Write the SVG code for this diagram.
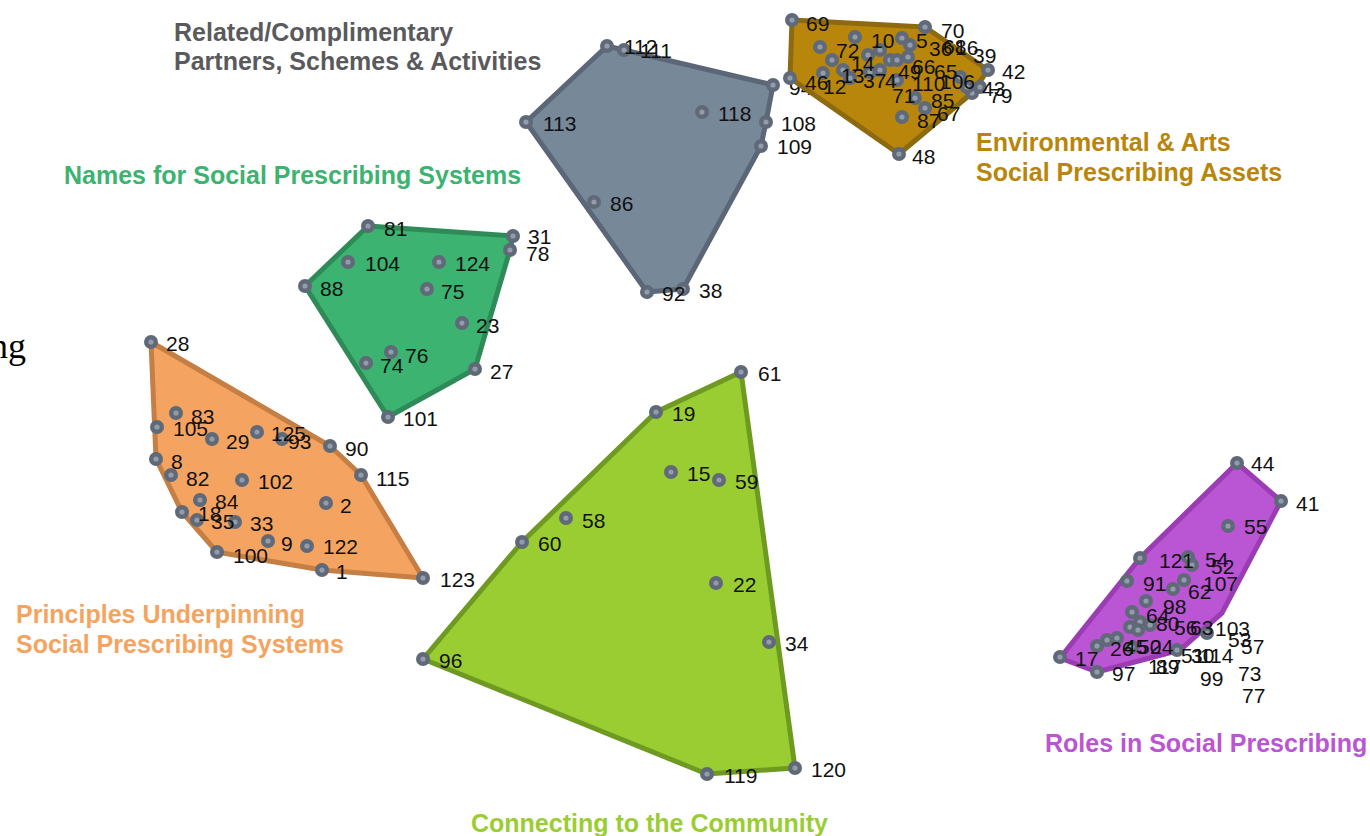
<svg xmlns="http://www.w3.org/2000/svg" xmlns:xlink="http://www.w3.org/1999/xlink" width="1370" height="836" viewBox="0 0 1370 836">
<defs>
<style>
.poly{stroke-width:5;stroke-linejoin:round}
.lbl{font-family:"Liberation Sans",Arial,sans-serif;font-size:21px;fill:#111}
.ttl{font-family:"Liberation Sans",Arial,sans-serif;font-size:25px;font-weight:bold}
</style>
<g id="dot"><circle r="7" fill="#5f6978"/><circle r="2.6" fill="#929caa"/></g>
</defs>
<rect width="1370" height="836" fill="#ffffff"/>
<text x="-10" y="358" font-family="'Liberation Serif',serif" font-size="36" fill="#000">ng</text>

<g id="titles">
<text class="ttl" fill="#5a5a5c" x="174" y="41">Related/Complimentary</text>
<text class="ttl" fill="#5a5a5c" x="174" y="70">Partners, Schemes &amp; Activities</text>
<text class="ttl" fill="#3cb371" x="64" y="184">Names for Social Prescribing Systems</text>
<text class="ttl" fill="#b8860b" x="976" y="151">Environmental &amp; Arts</text>
<text class="ttl" fill="#b8860b" x="976" y="181">Social Prescribing Assets</text>
<text class="ttl" fill="#f4a460" x="16" y="623">Principles Underpinning</text>
<text class="ttl" fill="#f4a460" x="16" y="653">Social Prescribing Systems</text>
<text class="ttl" fill="#9acd32" x="471" y="832">Connecting to the Community</text>
<text class="ttl" fill="#ba55d3" x="1045" y="752">Roles in Social Prescribing</text>
</g>

<g id="cluster-related">
<polygon class="poly" fill="#778899" stroke="#5b6777" points="526,122 607,46 624,50 773,85 766,122 761,146 683,289 647,292"/>
<use href="#dot" x="526" y="122"/><use href="#dot" x="607" y="46"/><use href="#dot" x="624" y="50"/><use href="#dot" x="773" y="85"/><use href="#dot" x="766" y="122"/><use href="#dot" x="761" y="146"/><use href="#dot" x="683" y="289"/><use href="#dot" x="647" y="292"/><use href="#dot" x="702" y="112"/><use href="#dot" x="594" y="202"/>
<text class="lbl" x="543" y="131">113</text><text class="lbl" x="624" y="54">112</text><text class="lbl" x="640" y="58">111</text><text class="lbl" x="718" y="121">118</text><text class="lbl" x="781" y="131">108</text><text class="lbl" x="777" y="154">109</text><text class="lbl" x="610" y="211">86</text><text class="lbl" x="662" y="301">92</text><text class="lbl" x="699" y="298">38</text><text class="lbl" x="789" y="95">94</text>
</g>

<g id="cluster-environmental">
<polygon class="poly" fill="#b8860b" stroke="#8d6a10" points="792,20 925,27 988,70 972,93 899,154 790,78"/>
<use href="#dot" x="792" y="20"/><use href="#dot" x="925" y="27"/><use href="#dot" x="855" y="37"/><use href="#dot" x="820" y="47"/><use href="#dot" x="832" y="60"/><use href="#dot" x="823" y="73"/><use href="#dot" x="790" y="78"/><use href="#dot" x="843" y="70"/><use href="#dot" x="850" y="78"/><use href="#dot" x="868" y="55"/><use href="#dot" x="880" y="50"/><use href="#dot" x="890" y="60"/><use href="#dot" x="902" y="38"/><use href="#dot" x="910" y="45"/><use href="#dot" x="908" y="57"/><use href="#dot" x="897" y="60"/><use href="#dot" x="880" y="70"/><use href="#dot" x="870" y="72"/><use href="#dot" x="897" y="80"/><use href="#dot" x="960" y="77"/><use href="#dot" x="988" y="70"/><use href="#dot" x="972" y="93"/><use href="#dot" x="967" y="87"/><use href="#dot" x="980" y="87"/><use href="#dot" x="915" y="98"/><use href="#dot" x="925" y="108"/><use href="#dot" x="902" y="117"/><use href="#dot" x="899" y="154"/>
<text class="lbl" x="806" y="31">69</text><text class="lbl" x="941" y="38">70</text><text class="lbl" x="871" y="48">10</text><text class="lbl" x="836" y="58">72</text><text class="lbl" x="916" y="48">5</text><text class="lbl" x="929" y="56">36</text><text class="lbl" x="943" y="54">68</text><text class="lbl" x="955" y="55">16</text><text class="lbl" x="973" y="63">39</text><text class="lbl" x="851" y="71">14</text><text class="lbl" x="841" y="83">13</text><text class="lbl" x="863" y="88">37</text><text class="lbl" x="885" y="88">4</text><text class="lbl" x="805" y="90">46</text><text class="lbl" x="823" y="94">12</text><text class="lbl" x="898" y="79">49</text><text class="lbl" x="912" y="74">66</text><text class="lbl" x="934" y="79">65</text><text class="lbl" x="912" y="91">110</text><text class="lbl" x="940" y="89">106</text><text class="lbl" x="1002" y="79">42</text><text class="lbl" x="982" y="96">43</text><text class="lbl" x="989" y="103">79</text><text class="lbl" x="892" y="103">71</text><text class="lbl" x="931" y="108">85</text><text class="lbl" x="937" y="121">67</text><text class="lbl" x="917" y="128">87</text><text class="lbl" x="912" y="164">48</text>
</g>

<g id="cluster-names">
<polygon class="poly" fill="#3cb371" stroke="#2e8b57" points="368,226 513,236 510,250 475,369 388,417 305,286"/>
<use href="#dot" x="368" y="226"/><use href="#dot" x="513" y="236"/><use href="#dot" x="510" y="250"/><use href="#dot" x="348" y="262"/><use href="#dot" x="439" y="262"/><use href="#dot" x="305" y="286"/><use href="#dot" x="427" y="289"/><use href="#dot" x="462" y="323"/><use href="#dot" x="391" y="352"/><use href="#dot" x="366" y="363"/><use href="#dot" x="475" y="369"/><use href="#dot" x="388" y="417"/>
<text class="lbl" x="384" y="236">81</text><text class="lbl" x="528" y="244">31</text><text class="lbl" x="526" y="261">78</text><text class="lbl" x="365" y="271">104</text><text class="lbl" x="455" y="271">124</text><text class="lbl" x="320" y="296">88</text><text class="lbl" x="441" y="299">75</text><text class="lbl" x="476" y="333">23</text><text class="lbl" x="405" y="363">76</text><text class="lbl" x="380" y="373">74</text><text class="lbl" x="490" y="379">27</text><text class="lbl" x="403" y="426">101</text>
</g>

<g id="cluster-principles">
<polygon class="poly" fill="#f4a460" stroke="#c57f45" points="151,342 330,446 361,475 423,578 322,570 217,552 182,512 156,459"/>
<use href="#dot" x="151" y="342"/><use href="#dot" x="176" y="413"/><use href="#dot" x="157" y="427"/><use href="#dot" x="212" y="439"/><use href="#dot" x="257" y="432"/><use href="#dot" x="282" y="439"/><use href="#dot" x="330" y="446"/><use href="#dot" x="156" y="459"/><use href="#dot" x="171" y="475"/><use href="#dot" x="242" y="480"/><use href="#dot" x="361" y="475"/><use href="#dot" x="200" y="500"/><use href="#dot" x="182" y="512"/><use href="#dot" x="197" y="520"/><use href="#dot" x="235" y="522"/><use href="#dot" x="326" y="503"/><use href="#dot" x="268" y="541"/><use href="#dot" x="307" y="546"/><use href="#dot" x="217" y="552"/><use href="#dot" x="322" y="570"/><use href="#dot" x="423" y="578"/>
<text class="lbl" x="166" y="351">28</text><text class="lbl" x="191" y="424">83</text><text class="lbl" x="173" y="436">105</text><text class="lbl" x="226" y="449">29</text><text class="lbl" x="271" y="441">125</text><text class="lbl" x="288" y="449">93</text><text class="lbl" x="345" y="456">90</text><text class="lbl" x="171" y="469">8</text><text class="lbl" x="186" y="486">82</text><text class="lbl" x="258" y="489">102</text><text class="lbl" x="376" y="486">115</text><text class="lbl" x="215" y="509">84</text><text class="lbl" x="198" y="521">18</text><text class="lbl" x="211" y="529">35</text><text class="lbl" x="250" y="531">33</text><text class="lbl" x="340" y="513">2</text><text class="lbl" x="281" y="551">9</text><text class="lbl" x="323" y="554">122</text><text class="lbl" x="233" y="563">100</text><text class="lbl" x="336" y="579">1</text><text class="lbl" x="440" y="587">123</text>
</g>

<g id="cluster-connecting">
<polygon class="poly" fill="#9acd32" stroke="#6f9a22" points="741,372 795,768 707,774 423,659 522,542 656,412"/>
<use href="#dot" x="741" y="372"/><use href="#dot" x="656" y="412"/><use href="#dot" x="671" y="472"/><use href="#dot" x="719" y="480"/><use href="#dot" x="566" y="518"/><use href="#dot" x="522" y="542"/><use href="#dot" x="716" y="583"/><use href="#dot" x="769" y="642"/><use href="#dot" x="423" y="659"/><use href="#dot" x="707" y="774"/><use href="#dot" x="795" y="768"/>
<text class="lbl" x="758" y="381">61</text><text class="lbl" x="672" y="421">19</text><text class="lbl" x="687" y="481">15</text><text class="lbl" x="735" y="489">59</text><text class="lbl" x="582" y="528">58</text><text class="lbl" x="538" y="551">60</text><text class="lbl" x="733" y="592">22</text><text class="lbl" x="785" y="651">34</text><text class="lbl" x="439" y="668">96</text><text class="lbl" x="724" y="783">119</text><text class="lbl" x="811" y="777">120</text>
</g>

<g id="cluster-roles">
<polygon class="poly" fill="#ba55d3" stroke="#9a3db3" points="1237,463 1281,501 1222,613 1180,650 1097,672 1060,658 1140,558"/>
<use href="#dot" x="1237" y="463"/><use href="#dot" x="1281" y="501"/><use href="#dot" x="1228" y="526"/><use href="#dot" x="1140" y="558"/><use href="#dot" x="1188" y="557"/><use href="#dot" x="1192" y="565"/><use href="#dot" x="1127" y="581"/><use href="#dot" x="1184" y="580"/><use href="#dot" x="1173" y="589"/><use href="#dot" x="1146" y="601"/><use href="#dot" x="1132" y="612"/><use href="#dot" x="1140" y="622"/><use href="#dot" x="1150" y="625"/><use href="#dot" x="1130" y="627"/><use href="#dot" x="1138" y="630"/><use href="#dot" x="1117" y="638"/><use href="#dot" x="1107" y="640"/><use href="#dot" x="1097" y="646"/><use href="#dot" x="1132" y="647"/><use href="#dot" x="1177" y="650"/><use href="#dot" x="1207" y="633"/><use href="#dot" x="1060" y="657"/><use href="#dot" x="1097" y="672"/>
<text class="lbl" x="1251" y="471">44</text><text class="lbl" x="1296" y="511">41</text><text class="lbl" x="1244" y="534">55</text><text class="lbl" x="1159" y="568">121</text><text class="lbl" x="1205" y="567">54</text><text class="lbl" x="1211" y="574">52</text><text class="lbl" x="1143" y="591">91</text><text class="lbl" x="1203" y="591">107</text><text class="lbl" x="1188" y="599">62</text><text class="lbl" x="1163" y="614">98</text><text class="lbl" x="1146" y="623">64</text><text class="lbl" x="1156" y="631">80</text><text class="lbl" x="1174" y="635">56</text><text class="lbl" x="1190" y="635">63</text><text class="lbl" x="1215" y="636">103</text><text class="lbl" x="1228" y="647">53</text><text class="lbl" x="1241" y="654">57</text><text class="lbl" x="1110" y="656">26</text><text class="lbl" x="1124" y="654">45</text><text class="lbl" x="1138" y="654">50</text><text class="lbl" x="1150" y="654">24</text><text class="lbl" x="1075" y="666">17</text><text class="lbl" x="1112" y="681">97</text><text class="lbl" x="1148" y="674">117</text><text class="lbl" x="1156" y="674">89</text><text class="lbl" x="1181" y="663">51</text><text class="lbl" x="1191" y="663">30</text><text class="lbl" x="1200" y="663">114</text><text class="lbl" x="1200" y="686">99</text><text class="lbl" x="1238" y="681">73</text><text class="lbl" x="1242" y="703">77</text>
</g>
</svg>
